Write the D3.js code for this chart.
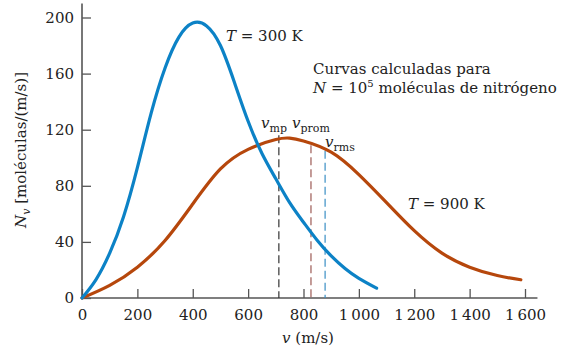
<!DOCTYPE html>
<html>
<head>
<meta charset="utf-8">
<script src="https://cdn.jsdelivr.net/npm/d3@7"></script>
<style>
  body { margin: 0; background: #fff; }
  svg text { font-family: "DejaVu Serif", serif; }
</style>
</head>
<body>
<div id="chart"></div>
<script>
// speeds (m/s) and N_v
const speeds300 = [0, 50, 100, 150, 200, 250, 300, 350, 400, 450, 500, 550, 600, 650, 700, 750, 800, 850, 900, 950, 1000, 1064];
const counts300 = [0, 13, 32, 58, 93, 132, 164, 186, 196, 194, 180, 154, 126, 103, 85, 68, 54, 41, 30, 21, 14, 7];

const speeds900 = [0, 100, 200, 300, 400, 500, 600, 700, 750, 800, 900, 1000, 1100, 1200, 1300, 1400, 1500, 1585];
const counts900 = [0, 9, 22, 41, 67, 92, 106, 113, 114, 112, 104, 88, 68, 48, 32, 22, 16, 13];

// characteristic speeds at 900 K and where their dashed lines start
const markNames = ["mp", "prom", "rms"];
const markSpeeds = [711, 827, 878];
const markTops = [116, 109, 105];

const xTicks = [0, 200, 400, 600, 800, 1000, 1200, 1400, 1600];
const yTicks = [0, 40, 80, 120, 160, 200];

const W = 568, H = 351;
const blue = "#0c82c6", rust = "#b6470c";
const markColors = ["#333", "#9c5a55", "#3a8fc4"];

const svg = d3.select("#chart").append("svg")
    .attr("width", W)
    .attr("height", H);

const x = d3.scaleLinear().domain([0, 1600]).range([82, 525]);
const y = d3.scaleLinear().domain([0, 200]).range([298, 17.5]);

const axisColor = "#555";

// axes
const xAxis = svg.append("g")
    .attr("transform", `translate(0,${y(0)})`)
    .call(d3.axisBottom(x).tickValues(xTicks).tickSizeInner(-9).tickSizeOuter(0)
        .tickFormat(d => d >= 1000 ? String(d).replace(/^(\d)/, "$1\u2009") : d));
xAxis.attr("font-size", 15);
xAxis.select(".domain").remove();
xAxis.selectAll(".tick line").attr("stroke", axisColor).attr("stroke-width", 1.3);
xAxis.selectAll(".tick text")
    .attr("y", 11)
    .attr("fill", "#222");

const yAxis = svg.append("g")
    .attr("transform", `translate(${x(0)},0)`)
    .call(d3.axisLeft(y).tickValues(yTicks).tickSizeInner(-9).tickSizeOuter(0));
yAxis.attr("font-size", 15);
yAxis.select(".domain").remove();
yAxis.selectAll(".tick line").attr("stroke", axisColor).attr("stroke-width", 1.3);
yAxis.selectAll(".tick text")
    .attr("x", -8)
    .attr("fill", "#222");

svg.append("line")
    .attr("x1", x(0)).attr("x2", x(1645))
    .attr("y1", y(0)).attr("y2", y(0))
    .attr("stroke", axisColor).attr("stroke-width", 1.6);
svg.append("line")
    .attr("x1", x(0)).attr("x2", x(0))
    .attr("y1", y(0)).attr("y2", y(210))
    .attr("stroke", axisColor).attr("stroke-width", 1.6);

// dashed markers
markSpeeds.forEach((s, i) => {
    svg.append("line")
        .attr("x1", x(s)).attr("x2", x(s))
        .attr("y1", y(markTops[i])).attr("y2", y(0))
        .attr("stroke", markColors[i])
        .attr("stroke-width", 1.2)
        .attr("stroke-dasharray", "8,4");
});

// curves
const line = d3.line()
    .x(d => x(d[0]))
    .y(d => y(d[1]))
    .curve(d3.curveNatural);

svg.append("path")
    .datum(d3.zip(speeds900, counts900))
    .attr("d", line)
    .attr("fill", "none")
    .attr("stroke", rust)
    .attr("stroke-width", 3.2)
    .attr("stroke-linecap", "round");

svg.append("path")
    .datum(d3.zip(speeds300, counts300))
    .attr("d", line)
    .attr("fill", "none")
    .attr("stroke", blue)
    .attr("stroke-width", 3.2)
    .attr("stroke-linecap", "round");

// labels
function label(px, py) {
    return svg.append("text")
        .attr("x", px).attr("y", py)
        .attr("font-size", 15)
        .attr("fill", "#222");
}

const subPos = [[261, 128], [292, 128], [325, 147]];
markNames.forEach((n, i) => {
    const t = label(subPos[i][0], subPos[i][1]);
    t.append("tspan").attr("font-style", "italic").text("v");
    t.append("tspan").attr("dy", 4).attr("font-size", 11).text(n);
});

label(226, 41).html('<tspan font-style="italic">T</tspan> = 300 K');
label(408, 209).html('<tspan font-style="italic">T</tspan> = 900 K');
label(313, 74).text("Curvas calculadas para");
label(313, 93).html('<tspan font-style="italic">N</tspan> = 10<tspan dy="-6" font-size="10">5</tspan><tspan dy="6"> moléculas de nitrógeno</tspan>');

label(0, 0)
    .attr("transform", "translate(26,150) rotate(-90)")
    .attr("text-anchor", "middle")
    .html('<tspan font-style="italic">N</tspan><tspan dy="4" font-size="11" font-style="italic">v</tspan><tspan dy="-4"> [moléculas/(m/s)]</tspan>');

label(308, 343)
    .attr("text-anchor", "middle")
    .html('<tspan font-style="italic">v</tspan> (m/s)');
</script>
</body>
</html>
